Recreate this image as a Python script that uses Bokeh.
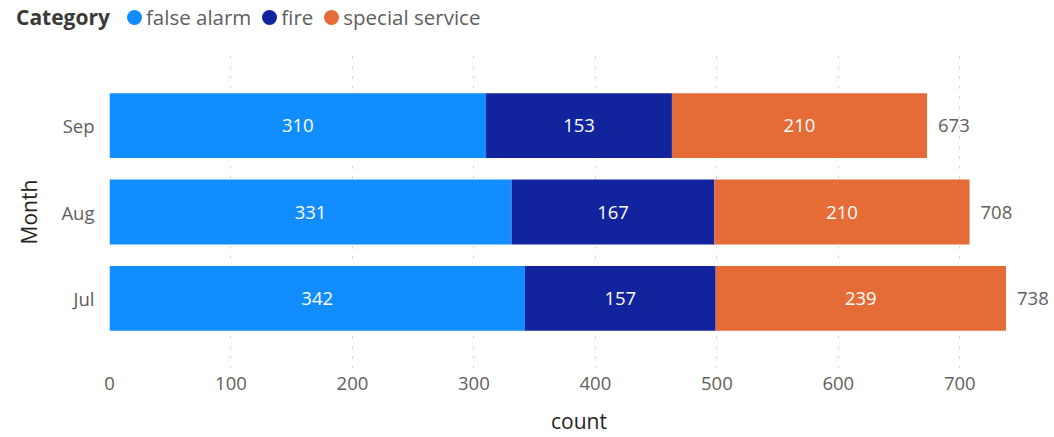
from bokeh.plotting import figure
from bokeh.layouts import column
from bokeh.models import ColumnDataSource, FactorRange, Range1d, FixedTicker, Div
from bokeh.core.properties import value
from bokeh.embed import file_html
from bokeh.resources import INLINE

# ---- data ----
months = ["Jul", "Aug", "Sep"]
categories = ["false alarm", "fire", "special service"]
false_alarm = [342, 331, 310]
fire = [157, 167, 153]
special_service = [239, 210, 210]
x_ticks = [0, 100, 200, 300, 400, 500, 600, 700]
legend_title = "Category"

colors = ["#118DFF", "#12239E", "#E66C37"]
FONT = "Open Sans"
W = 1050
HEAD_H = 45
MAIN_H = 392

# ---- header legend (HTML) ----
items_html = "".join(
    f'<span style="display:inline-block;width:15px;height:15px;border-radius:50%;'
    f'background:{c};margin-right:4px;flex:none"></span>'
    f'<span style="margin-right:11px">{cat}</span>'
    for cat, c in zip(categories, colors))
head = Div(text=(
    f'<div style="font-family:\'{FONT}\';font-size:20.5px;color:#605E5C;display:flex;'
    f'align-items:center;height:34px;padding-left:16px;white-space:nowrap;line-height:1">'
    f'<b style="color:#3B3A39;font-size:21px;margin-right:17px">{legend_title}</b>{items_html}</div>'),
    width=W, height=HEAD_H, styles={"margin": "0", "padding": "0"})

# ---- main chart ----
p = figure(width=W, height=MAIN_H, output_backend="svg", toolbar_location=None,
           y_range=FactorRange(factors=months, range_padding=0.207),
           x_range=Range1d(0, 773),
           min_border_left=109, min_border_right=2, min_border_top=10,
           min_border_bottom=67)
p.outline_line_color = None

src = ColumnDataSource(dict(month=months, fa=false_alarm, fi=fire, ss=special_service))
p.hbar_stack(["fa", "fi", "ss"], y="month", height=0.75, color=colors, source=src, line_width=0)

# segment labels
lab_x, lab_y, lab_t = [], [], []
for i, m in enumerate(months):
    left = 0
    for vals in (false_alarm, fire, special_service):
        lab_x.append(left + vals[i] / 2)
        lab_y.append(m)
        lab_t.append(str(vals[i]))
        left += vals[i]
p.text(x=lab_x, y=lab_y, text=lab_t, text_align="center", text_baseline="middle",
       text_color="white", text_font=value(FONT), text_font_size="18.5px")

totals = [a + b + c for a, b, c in zip(false_alarm, fire, special_service)]
p.text(x=totals, y=months, text=[str(t) for t in totals], x_offset=11,
       text_align="left", text_baseline="middle", text_color="#605E5C",
       text_font=value(FONT), text_font_size="18.5px")

# axes
p.xaxis.ticker = FixedTicker(ticks=x_ticks)
for ax in (p.xaxis[0], p.yaxis[0]):
    ax.axis_line_color = None
    ax.major_tick_line_color = None
    ax.minor_tick_line_color = None
    ax.major_label_text_color = "#605E5C"
    ax.major_label_text_font = FONT
    ax.major_label_text_font_size = "18.5px"
    ax.axis_label_text_font = FONT
    ax.axis_label_text_font_size = "21px"
    ax.axis_label_text_font_style = "normal"
    ax.axis_label_text_color = "#252423"
p.xaxis.axis_label = "count"
p.yaxis.axis_label = "Month"
p.xaxis.major_label_standoff = 2
p.xaxis.axis_label_standoff = 14
p.yaxis.major_label_standoff = 9
p.yaxis.axis_label_standoff = 15

p.ygrid.grid_line_color = None
p.xgrid.ticker = FixedTicker(ticks=x_ticks)
p.xgrid.grid_line_color = "#C8C6C4"
p.xgrid.grid_line_dash = "2 8"
p.xgrid.grid_line_width = 1

layout = column(head, p, spacing=0)
open("out.html", "w").write(file_html(layout, INLINE))
